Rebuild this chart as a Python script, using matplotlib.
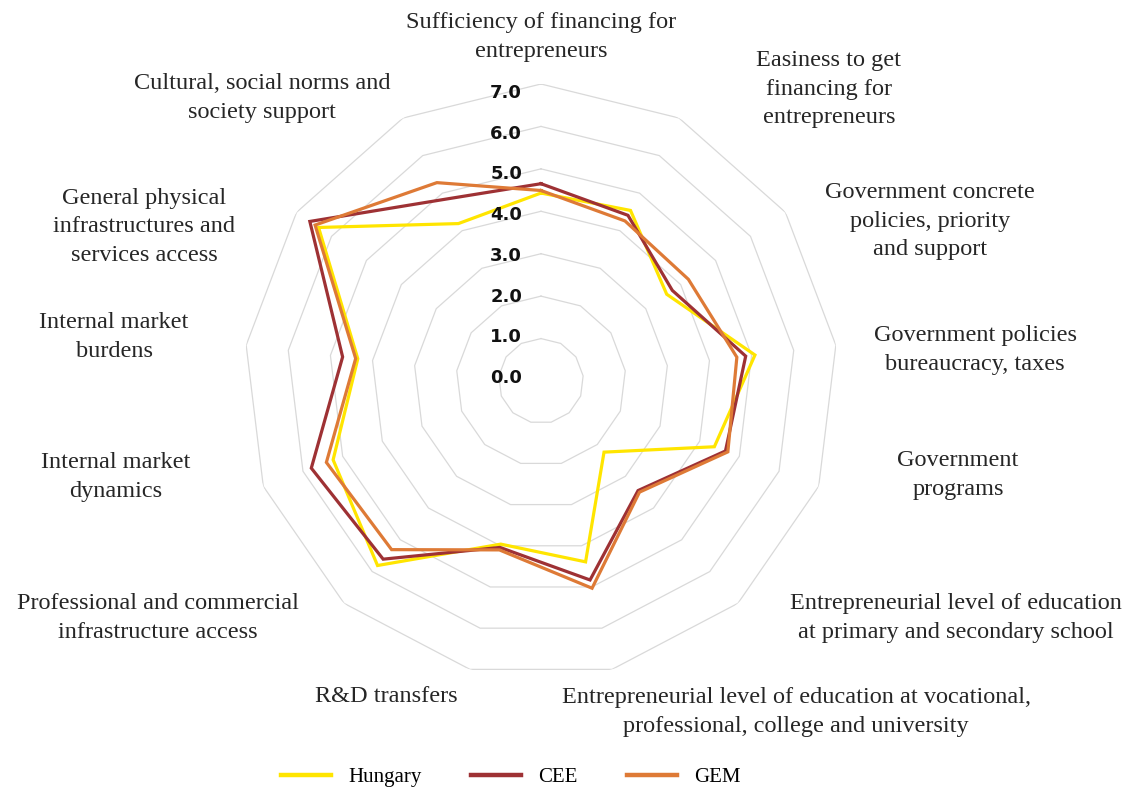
import numpy as np
import matplotlib.pyplot as plt
from matplotlib.transforms import ScaledTranslation

categories = [
    "Sufficiency of financing for\nentrepreneurs",
    "Easiness to get\nfinancing for\nentrepreneurs",
    "Government concrete\npolicies, priority\nand support",
    "Government policies\nbureaucracy, taxes",
    "Government\nprograms",
    "Entrepreneurial level of education\nat primary and secondary school",
    "Entrepreneurial level of education at vocational,\nprofessional, college and university",
    "R&D transfers",
    "Professional and commercial\ninfrastructure access",
    "Internal market\ndynamics",
    "Internal market\nburdens",
    "General physical\ninfrastructures and\nservices access",
    "Cultural, social norms and\nsociety support",
]
hungary = [4.43, 4.54, 3.60, 5.08, 4.37, 2.24, 4.39, 3.96, 5.81, 5.24, 4.35, 6.37, 4.19]
cee = [4.65, 4.41, 3.76, 4.86, 4.65, 3.45, 4.83, 4.04, 5.61, 5.79, 4.71, 6.62, 4.84]
gem = [4.49, 4.26, 4.22, 4.65, 4.71, 3.50, 5.03, 4.10, 5.31, 5.41, 4.40, 6.47, 5.28]
rings = [1, 2, 3, 4, 5, 6, 7]
tick_values = [0, 1, 2, 3, 4, 5, 6, 7]

series = [("Hungary", hungary, "#ffe500"),
          ("CEE", cee, "#9e3134"),
          ("GEM", gem, "#de7a36")]

# label anchors in figure pixels (from top-left)
label_pos = [(541, 37), (829, 89), (930, 221), (975, 350), (958, 475),
             (956, 618), (796, 712), (386, 697), (158, 618), (116, 477),
             (114, 337), (144, 227), (262, 98)]

W, H = 1143, 790
fig = plt.figure(figsize=(W / 100, H / 100), dpi=100)
cx, cy, rad = 541, 381, 297
ax = fig.add_axes([(cx - rad) / W, (H - cy - rad) / H, 2 * rad / W, 2 * rad / H],
                  projection="polar")
ax.set_theta_zero_location("N")
ax.set_theta_direction(-1)
ax.set_ylim(0, 7)
ax.grid(False)
ax.spines["polar"].set_visible(False)
ax.set_xticks([])
ax.set_yticks([])
ax.patch.set_alpha(0)

n = len(categories)
angles = np.linspace(0, 2 * np.pi, n, endpoint=False)
closed = np.append(angles, angles[0])

# polygon grid
for r in rings:
    ax.plot(closed, [r] * (n + 1), color="#d9d9d9", lw=0.9, zorder=1)

for name, vals, col in series:
    ax.plot(closed, vals + vals[:1], color=col, lw=2.3, label=name, zorder=3,
            solid_joinstyle="miter")

shift = ax.transData + ScaledTranslation(-19 / 100, 0, fig.dpi_scale_trans)
for v in tick_values:
    ax.text(0, 0.07 + v * 0.96, f"{v:.1f}", ha="right", va="center",
            fontsize=13, fontweight="bold", color="#111111",
            family="DejaVu Sans", zorder=4, transform=shift)

for lab, (px, py) in zip(categories, label_pos):
    fig.text(px / W, 1 - py / H, lab, ha="center", va="center",
             fontsize=17.5, family="Liberation Serif", color="#262626",
             linespacing=1.45)

leg = fig.legend(loc="center", bbox_to_anchor=(511 / W, 1 - 777 / H), ncol=3,
                 frameon=False, handlelength=2.4, handletextpad=0.8,
                 columnspacing=2.4,
                 prop={"family": "Liberation Serif", "size": 15})
for line in leg.get_lines():
    line.set_linewidth(3.2)

fig.savefig("out.png", dpi=100, facecolor="white")
